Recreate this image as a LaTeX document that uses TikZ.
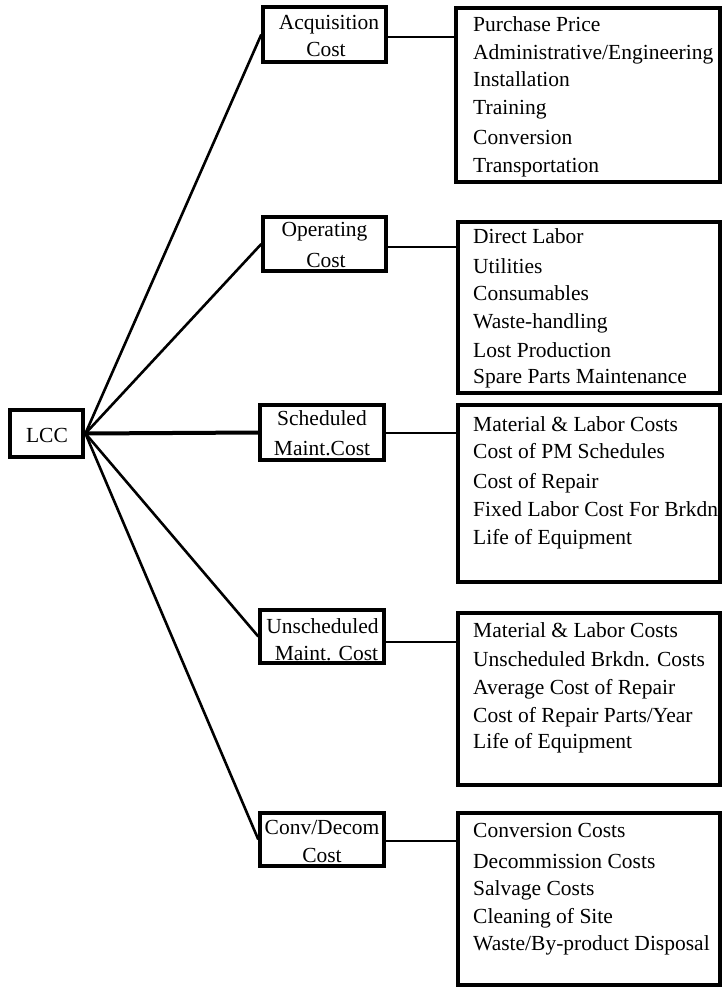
\documentclass[tikz,border=0pt]{standalone}
\usepackage{fontspec}
\setmainfont{Liberation Serif}
\begin{document}
\begin{tikzpicture}[x=1pt,y=-1pt,
  txt/.style={inner sep=0pt,font=\fontsize{21.5}{28}\selectfont},
  item/.style={txt,anchor=base west},
  frame/.style={draw,line width=3.4pt},
  link/.style={line width=2.6pt},
  mid/.style={frame,rectangle,inner sep=0pt}]
\useasboundingbox (0,0) rectangle (722,987);

% root
\node[mid,line width=4.8pt,minimum width=73pt,minimum height=47pt] (lcc) at (46.5,433.5) {};
\node[txt,anchor=base] (lcct) at (47,442) {LCC};

% cost categories
\node[mid,minimum width=123pt,minimum height=55pt] (acq) at (324.5,34.5) {};
\node[txt,anchor=base] (acq1) at (329,30) {Acquisition};
\node[txt,anchor=base] (acq2) at (326,57) {Cost};

\node[mid,minimum width=123pt,minimum height=54pt] (op) at (324.5,244) {};
\node[txt,anchor=base] (op1) at (324.5,236) {Operating};
\node[txt,anchor=base] (op2) at (326,267) {Cost};

\node[mid,minimum width=124pt,minimum height=55pt] (sch) at (322,432.5) {};
\node[txt,anchor=base] (sch1) at (322,425) {Scheduled};
\node[txt,anchor=base] (sch2) at (322,455) {Maint.Cost};

\node[mid,minimum width=124pt,minimum height=53pt] (uns) at (322,636.5) {};
\node[txt,anchor=base] (uns1) at (322.5,633) {Unscheduled};
\node[txt,anchor=base] (uns2) at (326.5,660) {Maint. Cost};

\node[mid,minimum width=124pt,minimum height=53pt] (cdc) at (322,839.5) {};
\node[txt,anchor=base] (cdc1) at (322,834) {Conv/Decom};
\node[txt,anchor=base] (cdc2) at (322,862) {Cost};

% detail boxes
\draw[frame] (456,8) rectangle (720,182);
\coordinate (d1) at (456,37);
\foreach \t/\y [count=\i] in {Purchase Price/32,{Administrative/Engineering}/60,Installation/87,Training/115,Conversion/145,Transportation/173}
  \node[item] (a\i) at (473,\y) {\t};

\draw[frame] (458,222) rectangle (720,393);
\coordinate (d2) at (458,247);
\foreach \t/\y [count=\i] in {Direct Labor/243,Utilities/273,Consumables/300,Waste-handling/328,Lost Production/357,Spare Parts Maintenance/383}
  \node[item] (b\i) at (473,\y) {\t};

\draw[frame] (458,405) rectangle (720,582);
\coordinate (d3) at (458,433);
\foreach \t/\y [count=\i] in {Material \& Labor Costs/431,Cost of PM Schedules/458,Cost of Repair/488,Fixed Labor Cost For Brkdn/516,Life of Equipment/544}
  \node[item] (c\i) at (473,\y) {\t};

\draw[frame] (458,613) rectangle (720,785);
\coordinate (d4) at (458,642);
\foreach \t/\y [count=\i] in {Material \& Labor Costs/637,Unscheduled Brkdn. Costs/666,Average Cost of Repair/694,{Cost of Repair Parts/Year}/722,Life of Equipment/748}
  \node[item] (e\i) at (473,\y) {\t};

\draw[frame] (458,813) rectangle (720,985);
\coordinate (d5) at (458,841);
\foreach \t/\y [count=\i] in {Conversion Costs/837,Decommission Costs/868,Salvage Costs/895,Cleaning of Site/923,{Waste/By-product Disposal}/950}
  \node[item] (f\i) at (473,\y) {\t};

% connectors from the root
\draw[link] (lcc.east) -- (acq.west);
\draw[link] (lcc.east) -- (op.west);
\draw[link,line width=4pt] (lcc.east) -- (sch.west);
\draw[link] (lcc.east) -- (uns.west);
\draw[link] (lcc.east) -- (cdc.west);

% connectors to the detail boxes
\draw[link] (acq.east |- d1) -- (d1);
\draw[link] (op.east |- d2) -- (d2);
\draw[link] (sch.east |- d3) -- (d3);
\draw[link] (uns.east |- d4) -- (d4);
\draw[link] (cdc.east |- d5) -- (d5);
\end{tikzpicture}
\end{document}
